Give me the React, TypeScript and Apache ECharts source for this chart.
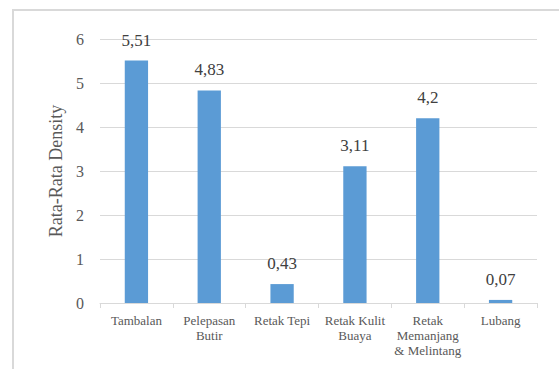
import React, { useEffect, useRef } from "react";
import * as echarts from "echarts";

const categories = [
  "Tambalan",
  "Pelepasan\nButir",
  "Retak Tepi",
  "Retak Kulit\nBuaya",
  "Retak\nMemanjang\n& Melintang",
  "Lubang",
];
const values = [5.51, 4.83, 0.43, 3.11, 4.2, 0.07];
const yTicks = [0, 1, 2, 3, 4, 5, 6];
const yTitle = "Rata-Rata Density";

const FONT = "Liberation Serif";

export default function App() {
  const ref = useRef<HTMLDivElement>(null);
  useEffect(() => {
    if (!ref.current) return;
    const chart = echarts.init(ref.current, undefined, { renderer: "svg" });
    chart.setOption({
      animation: false,
      backgroundColor: "#ffffff",
      textStyle: { fontFamily: FONT },
      graphic: [
        {
          type: "rect",
          shape: { x: 13, y: 10, width: 620, height: 420 },
          style: { fill: "none", stroke: "#d9d9d9", lineWidth: 2 },
          silent: true,
        },
      ],
      grid: { left: 100, right: 22, top: 39, bottom: 66 },
      xAxis: {
        type: "category",
        data: categories,
        axisLine: { lineStyle: { color: "#d9d9d9", width: 1 } },
        axisTick: { show: true, alignWithLabel: false, length: 5, lineStyle: { color: "#d9d9d9" } },
        axisLabel: {
          interval: 0,
          margin: 10,
          formatter: (v: string) =>
            v
              .split("\n")
              .map((s) => "{c|" + s + "}")
              .join("\n"),
          rich: {
            c: {
              color: "#595959",
              fontFamily: FONT,
              fontSize: 13,
              lineHeight: 15,
            },
          },
        },
      },
      yAxis: {
        type: "value",
        min: yTicks[0],
        max: yTicks[yTicks.length - 1],
        interval: 1,
        name: yTitle,
        nameLocation: "middle",
        nameGap: 33,
        nameTextStyle: { color: "#595959", fontFamily: FONT, fontSize: 18 },
        axisLine: { show: false },
        axisTick: { show: false },
        axisLabel: {
          margin: 16,
          formatter: (v: number) => "{t|" + v + "}",
          rich: { t: { color: "#595959", fontFamily: FONT, fontSize: 16 } },
        },
        splitLine: { lineStyle: { color: "#d9d9d9", width: 1 } },
      },
      series: [
        {
          type: "bar",
          data: values,
          barWidth: "32%",
          itemStyle: { color: "#5b9bd5" },
          label: {
            show: true,
            position: "top",
            distance: 12,
            formatter: (p: any) => "{v|" + String(p.value).replace(".", ",") + "}",
            rich: { v: { color: "#404040", fontFamily: FONT, fontSize: 17 } },
          },
        },
      ],
    });
    return () => chart.dispose();
  }, []);
  return (
    <div
      ref={ref}
      style={{ position: "fixed", left: 0, top: 0, width: 559, height: 369 }}
    />
  );
}
